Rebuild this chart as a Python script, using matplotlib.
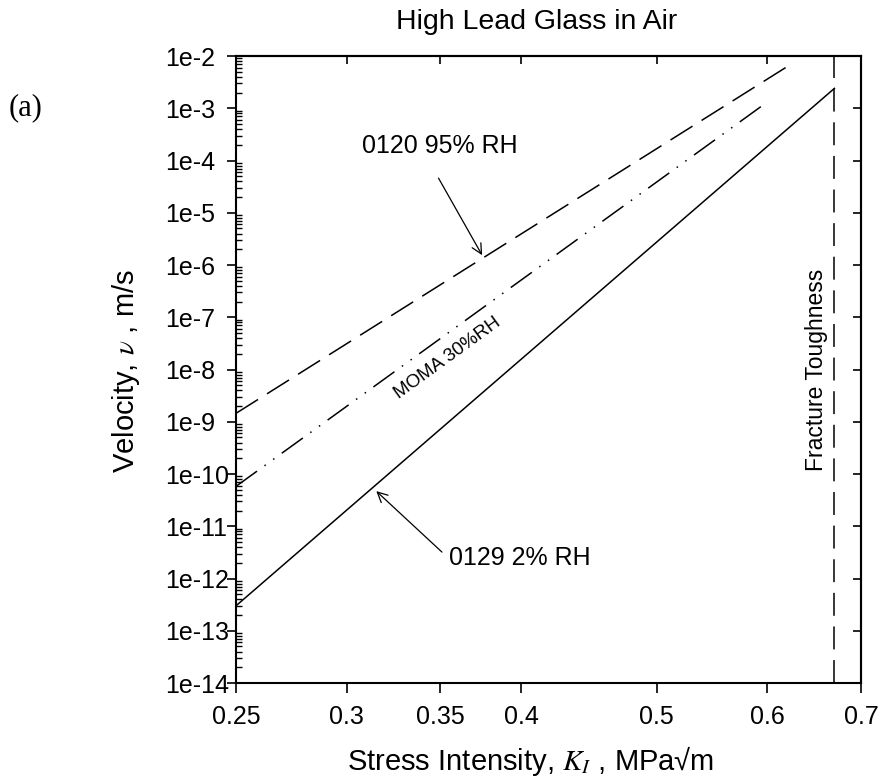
import numpy as np
import matplotlib
matplotlib.use('Agg')
import matplotlib.pyplot as plt
from matplotlib.ticker import FixedLocator, NullLocator

plt.rcParams['font.family'] = ['Liberation Sans', 'DejaVu Sans']
plt.rcParams['mathtext.fontset'] = 'stix'

# crack velocity curves (straight in log-log), end points
k_0120 = [0.25, 0.626]
v_0120 = [1.45e-9, 7.4e-3]
k_moma = [0.25, 0.598]
v_moma = [5.8e-11, 1.24e-3]
k_0129 = [0.25, 0.67]
v_0129 = [3.0e-13, 2.4e-3]
k_ic = 0.67  # fracture toughness

xticks = [0.25, 0.3, 0.35, 0.4, 0.5, 0.6, 0.7]
xlabels = ['0.25', '0.3', '0.35', '0.4', '0.5', '0.6', '0.7']
yexp = list(range(-14, -1))
ylabels = ['1e%d' % e for e in yexp]

W, H = 882, 780
def fx(x):
    return x / W
def fy(y):
    return 1 - y / H

fig = plt.figure(figsize=(8.82, 7.8), dpi=100)
ax = fig.add_axes([fx(236), fy(683), (861 - 236) / W, (683 - 56) / H])
ax.set_xscale('log')
ax.set_yscale('log')
ax.set_xlim(0.25, 0.7)
ax.set_ylim(1e-14, 1e-2)

ax.plot(k_0120, v_0120, color='k', lw=1.1, dashes=(17, 7))
ax.plot(k_moma, v_moma, color='k', lw=1.1, dashes=(17, 6, 1, 6, 1, 6))
ax.plot(k_0129, v_0129, color='k', lw=1.1)
ax.axvline(k_ic, color='k', lw=1.1, dashes=(15, 7))

# ticks
yt = [10.0 ** e for e in yexp]
ax.set_yticks(yt, ylabels)
ax.yaxis.set_minor_locator(FixedLocator([m * 10.0 ** e for e in range(-14, -2) for m in range(2, 10)]))
ax.set_xticks(xticks, xlabels)
ax.xaxis.set_minor_locator(NullLocator())
ax.tick_params(axis='x', which='major', direction='out', length=7, width=1.2, labelsize=18, pad=9)
ax.tick_params(axis='y', which='major', direction='out', length=6.5, width=1.2, labelsize=18, pad=44.5)
ax.tick_params(axis='y', which='minor', direction='in', length=4.5, width=1.0)
plt.setp(ax.get_yticklabels(), ha='left')
for s in ax.spines.values():
    s.set_linewidth(1.5)

top = ax.secondary_xaxis('top')
top.set_xticks(xticks, [''] * len(xticks))
top.xaxis.set_minor_locator(NullLocator())
top.tick_params(direction='in', length=6, width=1.2)
top.spines['top'].set_linewidth(1.5)
right = ax.secondary_yaxis('right')
right.set_yticks(yt, [''] * len(yt))
right.yaxis.set_minor_locator(NullLocator())
right.tick_params(direction='in', length=6, width=1.2)
right.spines['right'].set_linewidth(1.5)

# annotations
arrow = dict(arrowstyle='->', color='k', lw=0.9, shrinkA=0, shrinkB=0, mutation_scale=18)
ax.text(0.3496, 1.9e-4, '0120 95% RH', fontsize=18, ha='center', va='center')
ax.annotate('', xy=(0.375, 1.54e-6), xytext=(0.349, 4.6e-5), arrowprops=arrow)
ax.text(0.399, 2.5e-12, '0129 2% RH', fontsize=18, ha='center', va='center')
ax.annotate('', xy=(0.315, 4.7e-11), xytext=(0.351, 3.2e-12), arrowprops=arrow)
ax.text(0.354, 1.64e-8, 'MOMA 30%RH', fontsize=13.5, rotation=36, rotation_mode='anchor',
        ha='center', va='center')
ax.text(0.65, 0.5, 'Fracture Toughness', fontsize=16.5, rotation=90, ha='center', va='center',
        transform=ax.get_xaxis_transform())

fig.text(fx(537), fy(22), 'High Lead Glass in Air', fontsize=20.5, ha='center', va='center')
fig.text(fx(531), fy(761), 'Stress Intensity, $K_I$ , MPa\u221am', fontsize=21, ha='center', va='center')
fig.text(fx(126), fy(371), 'Velocity, $\\nu$ , m/s', fontsize=21, rotation=90, ha='center', va='center')
fig.text(fx(26), fy(108), '(a)', fontsize=22, family='Liberation Serif', ha='center', va='center')

fig.savefig('out.png', dpi=100)
